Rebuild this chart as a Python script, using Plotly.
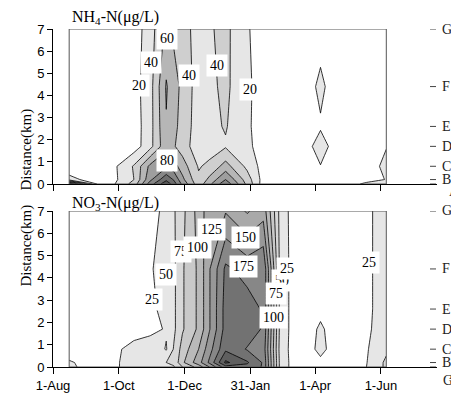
import plotly.graph_objects as go

# ---------------- data ----------------
# sampling dates, days after 1-Aug
days = [15, 45, 75, 90, 105, 112, 120, 135, 145, 160, 180, 195, 210, 225, 248, 270, 290, 309]
stations = ["A", "B", "C", "D", "E", "F", "G"]
station_km = [0, 0.2, 0.8, 1.7, 2.6, 4.4, 7.0]

# NH4-N (ug/L) by station (rows A..G) and date
nh4_A = [140, 0, 48, 110, 155, 130, 95, 48, 75, 115, 55, 10, 8, 6, 8, 6, 25, 22]
nh4_B = [30, 0, 40, 95, 135, 118, 85, 44, 65, 100, 50, 12, 6, 6, 8, 6, 10, 21]
nh4_C = [0, 0, 42, 85, 96, 88, 70, 38, 45, 68, 35, 12, 6, 8, 19.5, 6, 8, 26]
nh4_D = [0, 0, 10, 33, 75, 62, 50, 28, 30, 38, 26, 8, 6, 8, 26, 8, 8, 19]
nh4_E = [0, 0, 10, 32, 78.5, 66, 52, 30, 35, 41.5, 24, 8, 6, 7, 18.5, 8, 6, 15]
nh4_F = [0, 0, 12, 32, 82, 68, 55, 30, 36, 44, 25, 8, 6, 8, 23, 8, 6, 10]
nh4_G = [0, 0, 10, 30, 65, 56, 45, 35, 38, 45, 22, 10, 6, 5, 14, 5, 5, 5]

# NO3-N (ug/L)
no3_A = [33, 0, 45, 42, 45, 48, 75, 110, 150, 215, 218, 197, 48, 8, 8, 10, 24, 55]
no3_B = [30, 0, 45, 45, 50, 55, 95, 140, 180, 255, 228, 197, 48, 8, 21, 10, 23, 55]
no3_C = [0, 0, 40, 45, 23, 52, 85, 125, 165, 220, 198, 190, 45, 8, 30, 10, 22, 45]
no3_D = [0, 0, 5, 15, 28, 45, 72, 105, 148, 210, 215, 197, 48, 8, 28, 10, 20, 38]
no3_E = [0, 0, 5, 18, 35, 45, 72, 105, 148, 210, 212, 197, 48, 8, 20, 10, 20, 35]
no3_F = [0, 0, 5, 22, 38, 45, 72, 105, 148, 205, 190, 197, 48, 8, 8, 10, 20, 35]
no3_G = [0, 0, 5, 18, 30, 47, 68, 110, 140, 148, 122, 140, 45, 8, 8, 10, 20, 35]

tick_days = [0, 61, 122, 183, 243, 304]
tick_text = ["1-Aug", "1-Oct", "1-Dec", "31-Jan", "1-Apr", "1-Jun"]

nh4_labels = [("60", 105.7, 6.59), ("40", 90.8, 5.47), ("20", 79.7, 4.43),
              ("40", 126.0, 4.92), ("40", 152.0, 5.33), ("20", 182.6, 4.25),
              ("80", 105.7, 1.08)]
no3_labels = [("25", 92.0, 3.05), ("50", 104.7, 4.17), ("75", 118.6, 5.2),
              ("100", 134.4, 5.38), ("125", 147.4, 6.19), ("125", 176.0, 7.09),
              ("150", 178.9, 5.83), ("175", 177.0, 4.53), ("50", 212.0, 3.9),
              ("75", 206.7, 3.32), ("25", 217.0, 4.44), ("100", 204.0, 2.24),
              ("25", 293.0, 4.71)]

# ---------------- figure ----------------
# the page body has an 8px margin, so the figure is 8px smaller and all
# pixel positions below are given in window pixels and shifted by 8
OFF = 8
W, H = 459 - OFF, 396 - OFF
SERIF = "Liberation Serif, Times New Roman, serif"
SANS = "Liberation Sans, Arial, sans-serif"

nh4_colors = ["#ffffff", "#e6e6e6", "#cfcfcf", "#b6b6b6", "#9e9e9e", "#868686", "#6e6e6e", "#575757"]
no3_colors = ["#ffffff", "#e6e6e6", "#d8d8d8", "#c9c9c9", "#b9b9b9", "#a9a9a9",
              "#989898", "#878787", "#727272", "#5f5f5f", "#4d4d4d"]


def step_scale(cols):
    n = len(cols) - 1
    return [[i / n, c] for i, c in enumerate(cols)]


def px(p):
    return (p - OFF) / W


def py(p):
    return (H - (p - OFF)) / H


fig = go.Figure()
fig.add_trace(go.Contour(
    x=days, y=station_km, z=[nh4_A, nh4_B, nh4_C, nh4_D, nh4_E, nh4_F, nh4_G],
    contours=dict(start=20, end=140, size=20, coloring="fill", showlabels=False),
    colorscale=step_scale(nh4_colors), showscale=False,
    line=dict(color="black", width=0.8, smoothing=0),
    hoverinfo="skip", xaxis="x", yaxis="y"))
fig.add_trace(go.Contour(
    x=days, y=station_km, z=[no3_A, no3_B, no3_C, no3_D, no3_E, no3_F, no3_G],
    contours=dict(start=25, end=250, size=25, coloring="fill", showlabels=False),
    colorscale=step_scale(no3_colors), showscale=False,
    line=dict(color="black", width=0.8, smoothing=0),
    hoverinfo="skip", xaxis="x2", yaxis="y2"))

xdom = [px(53), px(437)]
axis_common = dict(showline=True, linecolor="black", linewidth=1, ticks="outside",
                   tickcolor="black", showgrid=False, zeroline=False, mirror=False)
fig.update_layout(
    width=W, height=H, margin=dict(l=0, r=0, t=0, b=0),
    paper_bgcolor="white", plot_bgcolor="white", showlegend=False,
    template="none",
    xaxis=dict(domain=xdom, range=[0, 356], anchor="y", tickvals=tick_days,
               showticklabels=False, ticklen=6, **axis_common),
    yaxis=dict(domain=[py(184), py(29)], range=[0, 7], anchor="x", dtick=1,
               ticklen=5, tickfont=dict(family=SANS, size=13, color="black"), **axis_common),
    xaxis2=dict(domain=xdom, range=[0, 356], anchor="y2", tickvals=tick_days,
                ticktext=tick_text, ticklen=6,
                tickfont=dict(family=SANS, size=13, color="black"), **axis_common),
    yaxis2=dict(domain=[py(367), py(211)], range=[0, 7], anchor="x2", dtick=1,
                ticklen=5, tickfont=dict(family=SANS, size=13, color="black"), **axis_common),
)

shapes = []
annotations = []
for xa, ya in (("x", "y"), ("x2", "y2")):
    shapes.append(dict(type="rect", xref=xa, yref=ya, x0=days[0], x1=days[-1], y0=0, y1=7,
                       line=dict(color="#555555", width=1), fillcolor="rgba(0,0,0,0)"))
    for name, km in zip(stations, station_km):
        shapes.append(dict(type="line", xref="paper", yref=ya, x0=px(430), x1=px(436),
                           y0=km, y1=km, line=dict(color="#444444", width=1)))
        xs, ys = (7, -7) if name == "A" else (0, 0)
        annotations.append(dict(text=name, xref="paper", yref=ya, x=px(440), y=km,
                                xanchor="left", yanchor="middle", showarrow=False,
                                xshift=xs, yshift=ys,
                                font=dict(family=SERIF, size=14, color="#222222")))

for (labels, xa, ya) in ((nh4_labels, "x", "y"), (no3_labels, "x2", "y2")):
    for t, d, k in labels:
        annotations.append(dict(text=t, xref=xa, yref=ya, x=d, y=k, showarrow=False,
                                bgcolor="white", borderpad=3,
                                font=dict(family=SERIF, size=14, color="black")))

annotations += [
    dict(text="NH<sub>4</sub>-N(\u03bcg/L)", xref="paper", yref="paper", x=px(70), y=py(17),
         xanchor="left", yanchor="middle", showarrow=False,
         font=dict(family=SERIF, size=16, color="black")),
    dict(text="NO<sub>3</sub>-N(\u03bcg/L)", xref="paper", yref="paper", x=px(70), y=py(203),
         xanchor="left", yanchor="middle", showarrow=False,
         font=dict(family=SERIF, size=16, color="black")),
    dict(text="Distance(km)", xref="paper", yref="paper", x=px(15), y=py(107),
         textangle=-90, showarrow=False, font=dict(family=SERIF, size=15, color="black")),
    dict(text="Distance(km)", xref="paper", yref="paper", x=px(15), y=py(289),
         textangle=-90, showarrow=False, font=dict(family=SERIF, size=15, color="black")),
    dict(text="G", xref="paper", yref="paper", x=px(441), y=py(390), xanchor="left",
         showarrow=False, font=dict(family=SERIF, size=14, color="#222222")),
]
fig.update_layout(shapes=shapes, annotations=annotations)
fig.write_html("out.html")
